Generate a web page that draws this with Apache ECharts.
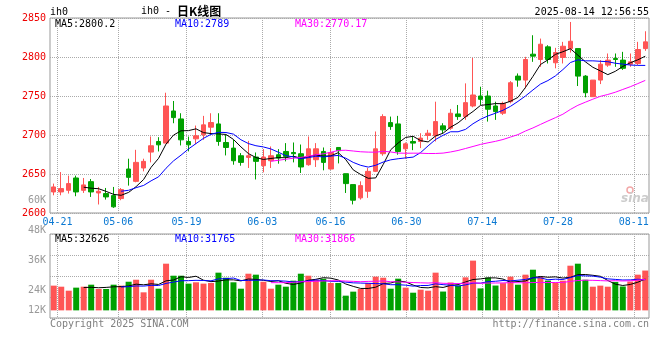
<!DOCTYPE html>
<html><head><meta charset="utf-8">
<script src="https://cdn.jsdelivr.net/npm/echarts@6/dist/echarts.min.js"></script>
<style>html,body{margin:0;padding:0;background:#fff}#c{width:660px;height:360px}</style>
</head><body><div id="c"></div><script>
const dates = ['04-21','04-22','04-23','04-24','04-25','04-28','04-29','04-30',
'05-06','05-07','05-08','05-09','05-12','05-13','05-14','05-15','05-16','05-19','05-20','05-21','05-22','05-23','05-26','05-27','05-28','05-29','05-30',
'06-03','06-04','06-05','06-06','06-09','06-10','06-11','06-12','06-13','06-16','06-17','06-18','06-19','06-20','06-23','06-24','06-25','06-26','06-27','06-30',
'07-01','07-02','07-03','07-04','07-07','07-08','07-09','07-10','07-11','07-14','07-15','07-16','07-17','07-18','07-21','07-22','07-23','07-24','07-25','07-28','07-29','07-30','07-31',
'08-01','08-04','08-05','08-06','08-07','08-08','08-11','08-12','08-13','08-14'];
const dateLabels = ['04-21','05-06','05-19','06-03','06-16','06-30','07-14','07-28','08-11'];
const opens = [2627.0,2627.0,2629.1,2644.9,2629.1,2640.2,2625.7,2624.9,2622.3,2618.5,
2656.4,2640.6,2657.7,2678.1,2691.7,2689.6,2730.8,2720.6,2691.7,2695.1,
2700.2,2710.0,2714.2,2690.4,2683.2,2673.4,2671.3,2671.7,2660.6,2667.0,
2674.7,2678.9,2677.6,2676.0,2661.9,2668.3,2678.9,2656.4,2684.0,2650.4,
2636.4,2619.4,2627.9,2653.4,2676.0,2715.9,2714.2,2682.3,2691.7,2691.7,
2699.4,2698.9,2711.7,2708.7,2727.0,2723.6,2737.2,2750.0,2750.0,2737.2,
2727.9,2742.7,2775.5,2770.4,2803.6,2796.8,2813.0,2792.6,2799.4,2810.8,
2810.8,2775.5,2749.1,2770.4,2789.6,2798.1,2796.0,2790.8,2791.7,2810.8];
const closes = [2633.4,2631.3,2637.7,2627.0,2636.0,2627.0,2627.9,2620.6,2607.9,2630.0,
2645.7,2664.9,2666.2,2686.2,2687.4,2737.2,2722.3,2693.8,2687.4,2698.9,
2713.0,2716.0,2691.7,2684.0,2667.0,2664.9,2673.4,2666.2,2671.7,2673.4,
2670.4,2672.5,2676.0,2659.0,2682.3,2682.3,2664.9,2677.6,2679.8,2637.7,
2616.4,2635.1,2653.4,2682.3,2723.6,2710.8,2678.9,2688.7,2689.6,2696.0,
2702.3,2717.2,2706.6,2727.9,2723.6,2741.5,2751.3,2745.7,2733.0,2730.0,
2740.6,2767.0,2770.4,2796.8,2801.1,2816.4,2796.8,2805.7,2813.8,2820.2,
2775.5,2754.2,2770.4,2790.8,2796.0,2796.8,2785.5,2793.8,2809.6,2819.4];
const lows = [2622.7,2622.7,2624.9,2621.5,2625.7,2620.6,2610.9,2617.2,2606.6,2616.4,
2635.1,2639.4,2653.4,2664.9,2678.9,2689.6,2715.1,2686.6,2679.0,2688.3,
2693.8,2702.3,2686.2,2673.8,2661.9,2660.6,2657.7,2643.0,2652.1,2657.7,
2663.2,2666.2,2664.9,2651.3,2660.6,2659.0,2654.7,2655.5,2663.6,2625.7,
2611.0,2617.2,2619.4,2652.5,2673.4,2706.6,2674.7,2669.6,2680.6,2683.2,
2693.8,2691.7,2702.3,2706.6,2719.4,2719.4,2735.5,2738.5,2717.2,2719.4,
2725.7,2740.6,2761.9,2759.8,2793.8,2787.4,2791.7,2785.5,2791.7,2805.7,
2762.8,2748.3,2749.1,2765.3,2787.4,2787.4,2783.4,2787.4,2789.6,2807.9];
const highs = [2637.7,2652.5,2647.9,2647.9,2644.9,2643.6,2633.4,2632.1,2633.4,2632.0,
2669.6,2681.0,2669.6,2698.1,2697.2,2754.2,2743.6,2727.9,2698.0,2712.1,
2724.5,2727.9,2727.9,2700.2,2693.8,2676.8,2692.5,2677.6,2681.9,2685.3,
2681.9,2689.6,2690.4,2687.8,2698.1,2689.6,2684.0,2683.2,2684.0,2650.4,
2636.4,2640.6,2657.7,2704.5,2726.6,2723.6,2724.5,2690.4,2698.0,2702.3,
2706.6,2742.7,2715.1,2733.4,2738.5,2766.2,2798.9,2761.9,2756.8,2742.7,
2742.7,2769.1,2778.9,2800.2,2827.9,2823.6,2815.1,2811.7,2819.4,2844.9,
2810.8,2776.8,2770.4,2796.0,2804.5,2804.5,2806.6,2804.5,2819.4,2833.0];
const volumes = [25900,24800,20600,23800,24800,26900,22400,22400,26900,25900,
30000,32100,18900,32100,22700,48900,36300,36300,28000,29400,
28000,28700,39500,34200,29400,22700,38400,37400,30000,22700,
26900,24800,31100,38400,36300,32100,33200,28700,28700,15400,
19600,22400,28700,35300,34200,22700,33200,23800,18500,21700,
20600,39500,19700,29200,25900,34600,52100,23000,34400,26000,
28500,35300,26900,37400,42600,35300,31200,29000,31100,46800,
48900,32100,24800,25900,24800,29800,25000,30200,37400,41700];
const priceTicks = [2600,2650,2700,2750,2800,2850];
const volTicks = [12000,24000,36000,48000,60000];
const volTickLabels = ['12K','24K','36K','48K','60K'];
const maLegend = ['MA5:2800.2','MA10:2789','MA30:2770.17'];
const volLegend = ['MA5:32626','MA10:31765','MA30:31866'];

const UP = '#ff5555', DOWN = '#00a000';
const MONO = '"DejaVu Sans Mono", monospace';
const MA_COLORS = ['#000000', '#0000ff', '#ff00ff'];
const dotted = {color: '#aaaaaa', width: 1, type: [1, 1]};

function ma(arr, n) {
  return arr.map((v, i) => {
    if (i < n - 1) return '-';
    let s = 0; for (let k = i - n + 1; k <= i; k++) s += arr[k];
    return +(s / n).toFixed(2);
  });
}
const kdata = dates.map((d, i) => [opens[i], closes[i], lows[i], highs[i]]);
const gridCats = [''].concat(dates.slice(0, dates.length - 1));
const labelSet = new Set(dateLabels);
const showTick = (i) => labelSet.has(gridCats[i]);

const chart = echarts.init(document.getElementById('c'), null, {renderer: 'canvas'});
const maSeries = [5, 10, 30].map((n, j) => ({
  type: 'line', name: 'MA' + n, xAxisIndex: 0, yAxisIndex: 0, data: ma(closes, n),
  symbol: 'none', z: 5, lineStyle: {width: 1, color: MA_COLORS[j]}, itemStyle: {color: MA_COLORS[j]}
}));
const volMaSeries = [5, 10, 30].map((n, j) => ({
  type: 'line', name: 'VMA' + n, xAxisIndex: 2, yAxisIndex: 1, data: ma(volumes, n),
  symbol: 'none', z: 5, lineStyle: {width: 1, color: MA_COLORS[j]}, itemStyle: {color: MA_COLORS[j]}
}));

const txt = (x, y, text, fill, font, align) => ({
  type: 'text', x: x, y: y, z: 100,
  style: {text: text, fill: fill, font: font || ('10px ' + MONO), align: align || 'left', verticalAlign: 'middle'}
});

chart.setOption({
  animation: false,
  backgroundColor: '#ffffff',
  grid: [
    {left: 50, width: 599, top: 18, height: 195, show: true, borderColor: '#999999', borderWidth: 1, backgroundColor: 'transparent'},
    {left: 50, width: 599, top: 234, height: 84, show: true, borderColor: '#999999', borderWidth: 1, backgroundColor: 'transparent'},
    {left: 50, width: 599, top: 200.5, height: 120.4, show: false}
  ],
  xAxis: [
    {type: 'category', gridIndex: 0, data: dates, boundaryGap: true, show: false},
    {type: 'category', gridIndex: 0, data: gridCats, boundaryGap: false, position: 'bottom',
      axisLine: {show: false}, axisTick: {show: false},
      axisLabel: {interval: (i) => showTick(i), color: '#0a78d2', fontFamily: MONO, fontSize: 10, margin: 4},
      splitLine: {show: true, interval: (i) => showTick(i), lineStyle: dotted}},
    {type: 'category', gridIndex: 1, data: dates, boundaryGap: true, show: false},
    {type: 'category', gridIndex: 1, data: gridCats, boundaryGap: false,
      axisLine: {show: false}, axisTick: {show: false}, axisLabel: {show: false},
      splitLine: {show: true, interval: (i) => showTick(i), lineStyle: dotted}},
    {type: 'value', gridIndex: 2, show: false, min: 0, max: 1}
  ],
  yAxis: [
    {type: 'value', gridIndex: 0, min: priceTicks[0], max: priceTicks[priceTicks.length - 1], interval: 50,
      axisLine: {show: false}, axisTick: {show: false},
      axisLabel: {color: '#ee0000', fontFamily: MONO, fontSize: 10, margin: 4, formatter: (v) => String(v)},
      splitLine: {show: true, lineStyle: dotted}},
    {type: 'value', gridIndex: 1, min: -8000, max: 80000, show: false},
    {type: 'value', gridIndex: 1, min: 0, max: 4, interval: 1,
      axisLine: {show: false}, axisTick: {show: false}, axisLabel: {show: false},
      splitLine: {show: true, lineStyle: dotted}},
    {type: 'value', gridIndex: 2, min: volTicks[0], max: volTicks[volTicks.length - 1], interval: 12000,
      axisLine: {show: false}, axisTick: {show: false}, splitLine: {show: false},
      axisLabel: {margin: 4, formatter: (v) => {
        const k = volTicks.indexOf(v); const s = k >= 0 ? volTickLabels[k] : '';
        return k === 0 ? '{lo|' + s + '}' : '{n|' + s + '}';
      }, rich: {
        n: {color: '#999999', fontFamily: MONO, fontSize: 10},
        lo: {color: '#999999', fontFamily: MONO, fontSize: 10, padding: [0, 0, 20, 0]}
      }}}
  ],
  series: [
    {type: 'candlestick', xAxisIndex: 0, yAxisIndex: 0, data: kdata, barWidth: 5,
      itemStyle: {color: UP, color0: DOWN, borderColor: UP, borderColor0: DOWN, borderWidth: 1}}
  ].concat(maSeries).concat([
    {type: 'bar', xAxisIndex: 2, yAxisIndex: 1, data: volumes, barWidth: 6,
      itemStyle: {color: (p) => closes[p.dataIndex] >= opens[p.dataIndex] ? UP : DOWN}}
  ]).concat(volMaSeries),
  graphic: [
    txt(50, 12, 'ih0', '#000'),
    {type: 'text', x: 141, y: 11, z: 100, style: {text: '{a|ih0 - }{b|日K线图}', verticalAlign: 'middle',
      rich: {a: {font: '10px ' + MONO, fill: '#000'}, b: {font: 'bold 12px "Noto Sans CJK SC"', fill: '#000'}}}},
    txt(649, 12, '2025-08-14 12:56:55', '#000', null, 'right'),
    txt(55, 24, maLegend[0], MA_COLORS[0]),
    txt(175, 24, maLegend[1], MA_COLORS[1]),
    txt(295, 24, maLegend[2], MA_COLORS[2]),
    txt(55, 239, volLegend[0], MA_COLORS[0]),
    txt(175, 239, volLegend[1], MA_COLORS[1]),
    txt(295, 239, volLegend[2], MA_COLORS[2]),
    txt(50, 324, 'Copyright 2025 SINA.COM', '#808080'),
    txt(649, 324, 'http://finance.sina.com.cn', '#808080', null, 'right'),
    {type: 'circle', z: 1, shape: {cx: 630, cy: 190, r: 3}, style: {fill: 'none', stroke: '#f2a8a8', lineWidth: 1.5}},
    txt(621, 199, 'sina', '#cccccc', 'italic bold 12px "DejaVu Sans"')
  ]
});
</script></body></html>
